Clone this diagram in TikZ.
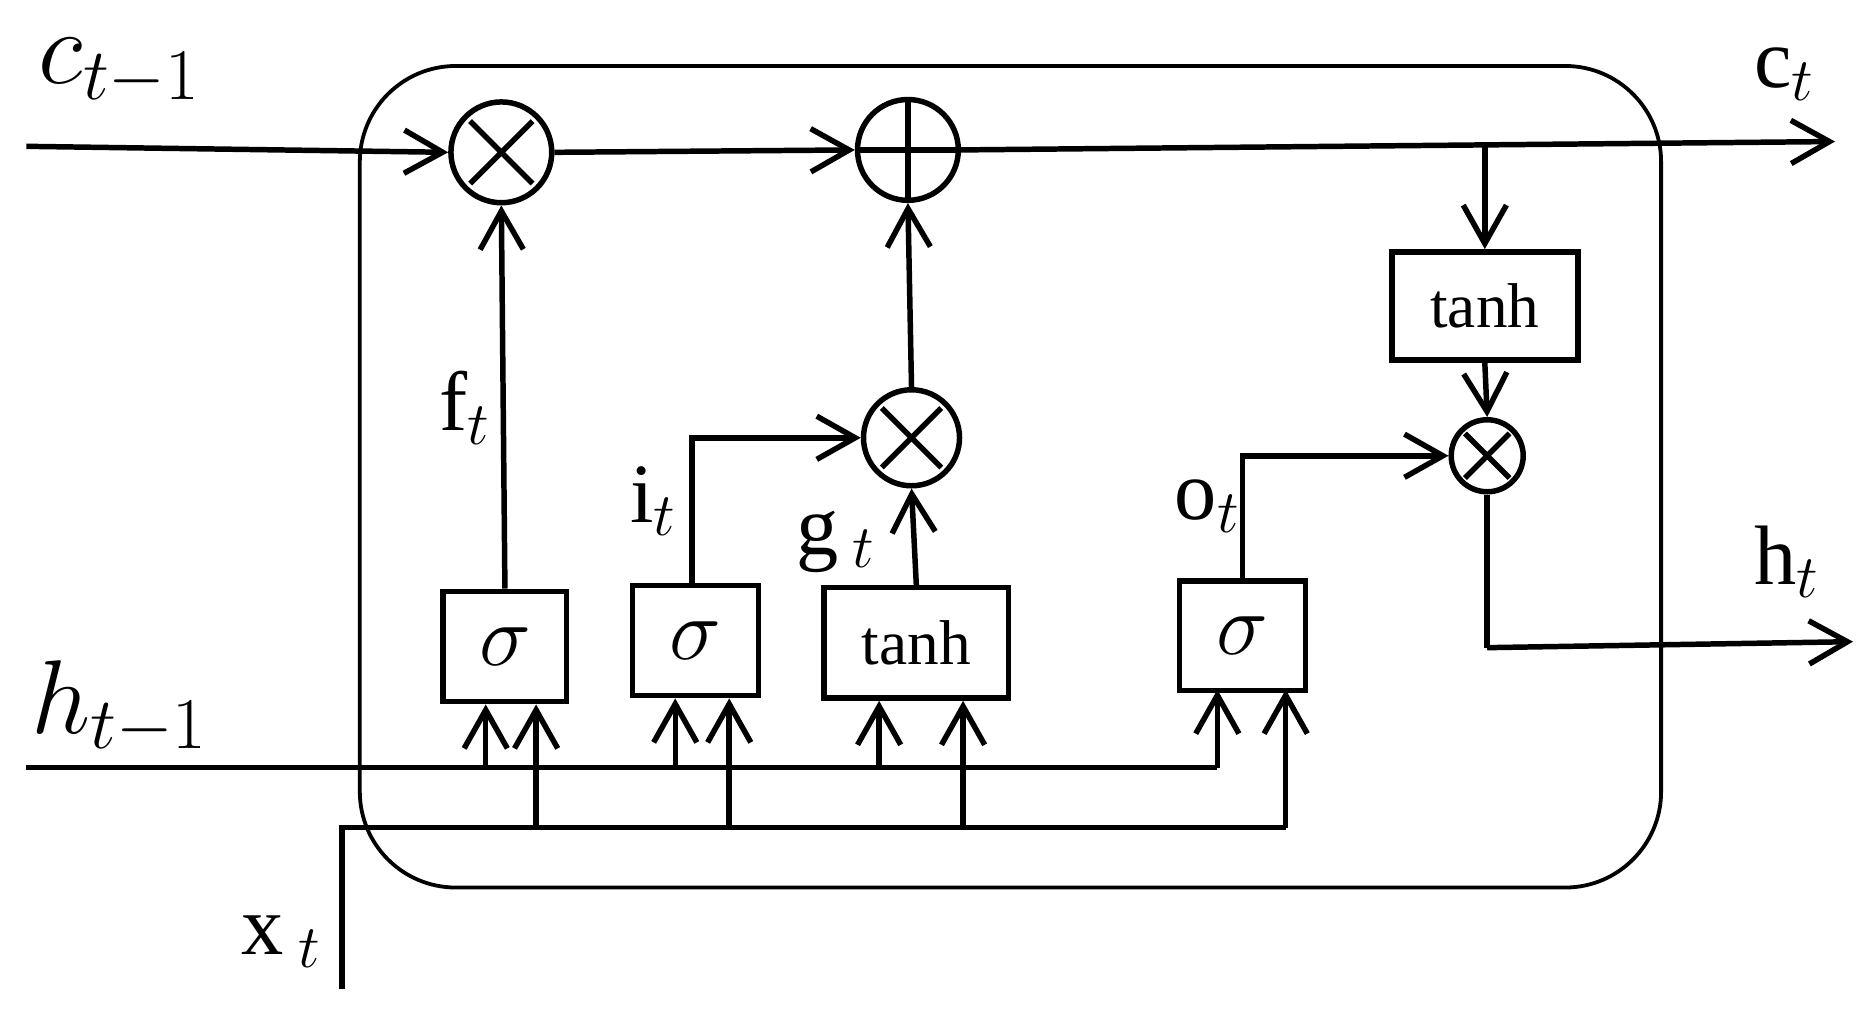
\documentclass[tikz,border=0pt]{standalone}
\usepackage{fontspec}
\setmainfont{Liberation Serif}
\usetikzlibrary{arrows.meta,calc}
\begin{document}
\begin{tikzpicture}[x=0.01cm,y=-0.01cm,
  ln/.style={line width=1.3pt},
  ar/.style={ln,-{Straight Barb[length=3.2mm,width=3.6mm,line width=1.3pt]}},
  box/.style={draw,line width=1.3pt,minimum width=#1*0.01cm,inner sep=0pt,font=\fontsize{15}{15}\selectfont},
  sg/.style={font=\fontsize{20}{20}\selectfont},
  op/.style={draw,circle,line width=1.3pt,inner sep=0pt},
  lab/.style={font=\fontsize{20}{20}\selectfont}]
\useasboundingbox (0,0) rectangle (1560,845);
\draw[line width=0.9pt,rounded corners=0.8cm] (300,55) rectangle (1385,740);
% ops
\node[op,minimum size=0.84cm] (m1) at (418,127) {};
\node[op,minimum size=0.84cm] (p1) at (757,125) {};
\node[op,minimum size=0.80cm] (m2) at (760,365) {};
\node[op,minimum size=0.60cm] (m3) at (1240,380) {};
\foreach \n/\r in {m1/42,m2/40,m3/30}{
  \draw[ln] ($(\n)+(-0.62*\r,-0.62*\r)$) -- ($(\n)+(0.62*\r,0.62*\r)$);
  \draw[ln] ($(\n)+(-0.62*\r,0.62*\r)$) -- ($(\n)+(0.62*\r,-0.62*\r)$);}
\draw[ln] ($(p1)+(-40,0)$) -- ($(p1)+(40,0)$);
\draw[ln] ($(p1)+(0,-40)$) -- ($(p1)+(0,40)$);
% boxes
\node[box=103,sg,minimum height=0.92cm] (bf) at (421,539) {$\sigma$};
\node[box=105,sg,minimum height=0.92cm] (bi) at (580,534) {$\sigma$};
\node[box=154,minimum height=0.92cm] (bg) at (764,536) {tanh};
\node[box=105,sg,minimum height=0.91cm] (bo) at (1036,530) {$\sigma$};
\node[box=155,minimum height=0.90cm] (bt) at (1238,255) {tanh};
% coordinates
\coordinate (cin) at (22,122);
\coordinate (cout) at (1530,118);
\coordinate (hin) at (22,640);
\coordinate (hout) at (1545,535);
\coordinate (xin) at (285,825);
% cell line
\draw[ar] (cin) -- (m1.west);
\draw[ar] (m1.east) -- (p1.west);
\draw[ar] (p1.east) -- (cout);
\draw[ar] (1238,120) -- (bt.north);
\draw[ar] (bt.south) -- (m3.north);
\draw[ln] (m3.south) -- (1240,540);
\draw[ar] (1240,540) -- (hout);
% gates
\draw[ar] (bf.north) -- (m1.south);
\draw[ar] (bi.north -| 577,0) |- (m2.west);
\draw[ar] (bg.north) -- (m2.south);
\draw[ar] (m2.north) -- (p1.south);
\draw[ar] (bo.north) |- (m3.west);
% h_{t-1}
\draw[ln] (hin) -- (1015,640);
\draw[ar] (1015,640) -- (1015,575);
\foreach \x/\b in {405/bf,563/bi,733/bg}{\draw[ar] (\x,640) -- (\x,0 |- \b.south);}
% x_t
\draw[ln] (xin) -- (285,690) -- (1072,690);
\draw[ar] (1072,690) -- (1072,575);
\foreach \x/\b in {447/bf,608/bi,803/bg}{\draw[ar] (\x,690) -- (\x,0 |- \b.south);}
% labels
\node[lab,font=\fontsize{24}{24}\selectfont] at (100,60) {$c_{t-1}$};
\node[lab,font=\fontsize{24}{24}\selectfont] at (100,590) {$h_{t-1}$};
\node[lab] at (235,785) {x\,$_t$};
\node[lab] at (388,340) {f$_t$};
\node[lab] at (545,418) {i$_t$};
\node[lab] at (697,452) {g\,$_t$};
\node[lab] at (1007,422) {o$_t$};
\node[lab] at (1488,62) {c$_t$};
\node[lab] at (1490,468) {h$_t$};
\end{tikzpicture}
\end{document}
